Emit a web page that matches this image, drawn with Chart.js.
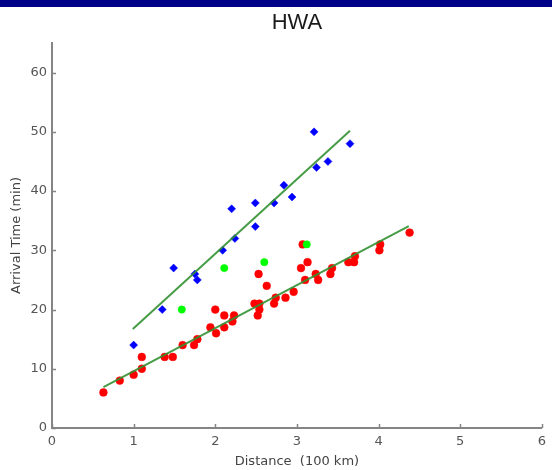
<!DOCTYPE html>
<html>
<head>
<meta charset="utf-8">
<script src="https://cdn.jsdelivr.net/npm/chart.js@4.4.1/dist/chart.umd.min.js"></script>
<style>
  html, body { margin: 0; padding: 0; background: #ffffff; overflow: hidden; }
  #wrap { position: relative; width: 552px; height: 470px; }
</style>
</head>
<body>
<div id="wrap"><canvas id="c"></canvas></div>
<script>
// ---- data ----
const chartTitle = 'HWA';
const xAxisTitle = 'Distance  (100 km)';
const yAxisTitle = 'Arrival Time (min)';
const xTicks = [0, 1, 2, 3, 4, 5, 6];
const yTicks = [0, 10, 20, 30, 40, 50, 60];

const blueX = [1.00, 1.35, 1.49, 1.75, 1.78, 2.09, 2.24, 2.20, 2.49, 2.49, 2.72, 2.84, 2.94, 3.21, 3.24, 3.38, 3.65];
const blueY = [14, 20, 27, 26, 25, 30, 32, 37, 38, 34, 38, 41, 39, 50, 44, 45, 48];

const redX = [0.63, 0.83, 1.00, 1.10, 1.10, 1.38, 1.48, 1.60, 1.74, 1.78, 1.94, 2.01, 2.00, 2.11, 2.11,
              2.21, 2.23, 2.48, 2.54, 2.54, 2.52, 2.53, 2.63, 2.72, 2.74, 2.86, 2.96, 3.05, 3.07, 3.13,
              3.10, 3.23, 3.26, 3.41, 3.43, 3.63, 3.70, 3.71, 4.01, 4.02, 4.38];
const redY = [6, 8, 9, 10, 12, 12, 12, 14, 14, 15, 17, 16, 20, 19, 17,
              18, 19, 21, 21, 20, 19, 26, 24, 21, 22, 22, 23, 27, 31, 28,
              25, 26, 25, 26, 27, 28, 28, 29, 30, 31, 33];

const greenX = [1.59, 2.11, 2.60, 3.12];
const greenY = [20, 27, 28, 31];

// fitted lines (end points)
const upperFitX = [0.99, 3.65];
const upperFitY = [16.7, 50.2];
const lowerFitX = [0.63, 4.37];
const lowerFitY = [6.9, 34.1];

const pts = (xs, ys) => xs.map((x, i) => ({ x: x, y: ys[i] }));

const AXIS_GREY = '#858585';

const frame = {
  id: 'frame',
  beforeDraw(chart) {
    const ctx = chart.ctx;
    ctx.save();
    ctx.fillStyle = '#ffffff';
    ctx.fillRect(0, 0, chart.width, chart.height);
    ctx.fillStyle = '#000088';
    ctx.fillRect(0, 0, chart.width, 7);
    ctx.restore();
  },
  afterDraw(chart) {
    const ctx = chart.ctx;
    const xs = chart.scales.x, ys = chart.scales.y;
    const a = chart.chartArea;
    ctx.save();
    // chart title, centred over the plot area
    ctx.fillStyle = '#1a1a1a';
    ctx.font = 'normal 22px "Liberation Sans", Arial, sans-serif';
    ctx.textAlign = 'center';
    ctx.textBaseline = 'middle';
    ctx.fillText(chartTitle, (a.left + a.right) / 2, 22.5);
    // inward tick marks
    ctx.strokeStyle = AXIS_GREY;
    ctx.lineWidth = 1.5;
    ctx.beginPath();
    xTicks.forEach(v => {
      const px = Math.round(xs.getPixelForValue(v)) + 0.5;
      ctx.moveTo(px, a.bottom);
      ctx.lineTo(px, a.bottom - 4);
    });
    yTicks.forEach(v => {
      const py = Math.round(ys.getPixelForValue(v)) + 0.5;
      ctx.moveTo(a.left, py);
      ctx.lineTo(a.left + 4, py);
    });
    ctx.stroke();
    ctx.restore();
  }
};

new Chart(document.getElementById('c'), {
  type: 'scatter',
  data: {
    datasets: [
      { label: 'fit upper', data: pts(upperFitX, upperFitY), showLine: true, pointRadius: 0,
        borderColor: 'rgba(50,145,50,0.9)', borderWidth: 2, order: 0 },
      { label: 'fit lower', data: pts(lowerFitX, lowerFitY), showLine: true, pointRadius: 0,
        borderColor: 'rgba(50,145,50,0.9)', borderWidth: 2, order: 0 },
      { label: 'green', data: pts(greenX, greenY), pointStyle: 'circle', pointRadius: 3.7,
        backgroundColor: '#00ff00', borderColor: '#00ff00', borderWidth: 0.5, order: 1 },
      { label: 'blue', data: pts(blueX, blueY), pointStyle: 'rectRot', pointRadius: 4,
        backgroundColor: '#0000ff', borderColor: '#0000ff', borderWidth: 0.5, order: 2 },
      { label: 'red', data: pts(redX, redY), pointStyle: 'circle', pointRadius: 3.9,
        backgroundColor: '#ff0000', borderColor: '#ff0000', borderWidth: 0.5, order: 3 }
    ]
  },
  options: {
    responsive: true,
    maintainAspectRatio: false,
    animation: false,
    layout: { padding: { left: 0, right: 7, top: 43, bottom: 0 } },
    plugins: {
      legend: { display: false },
      tooltip: { enabled: false },
      title: { display: false }
    },
    scales: {
      x: {
        type: 'linear',
        min: 0, max: 6,
        afterBuildTicks: s => { s.ticks = xTicks.map(v => ({ value: v })); },
        afterFit: s => { s.height = 42; },
        grid: { display: false, drawTicks: false },
        border: { display: true, color: AXIS_GREY, width: 2 },
        ticks: { color: '#555555', padding: 6,
                 font: { family: 'DejaVu Sans', size: 13 } },
        title: { display: true, text: xAxisTitle, color: '#444444',
                 font: { family: 'DejaVu Sans', size: 13 }, padding: { top: 0, bottom: 1 } }
      },
      y: {
        type: 'linear',
        min: 0, max: 65,
        afterBuildTicks: s => { s.ticks = yTicks.map(v => ({ value: v })); },
        afterFit: s => { s.width = 52; },
        grid: { display: false, drawTicks: false },
        border: { display: true, color: AXIS_GREY, width: 2 },
        ticks: { color: '#555555', padding: 5,
                 font: { family: 'DejaVu Sans', size: 13 } },
        title: { display: true, text: yAxisTitle, color: '#444444',
                 font: { family: 'DejaVu Sans', size: 13 }, padding: { top: 9, bottom: 0 } }
      }
    }
  },
  plugins: [frame]
});
</script>
</body>
</html>
